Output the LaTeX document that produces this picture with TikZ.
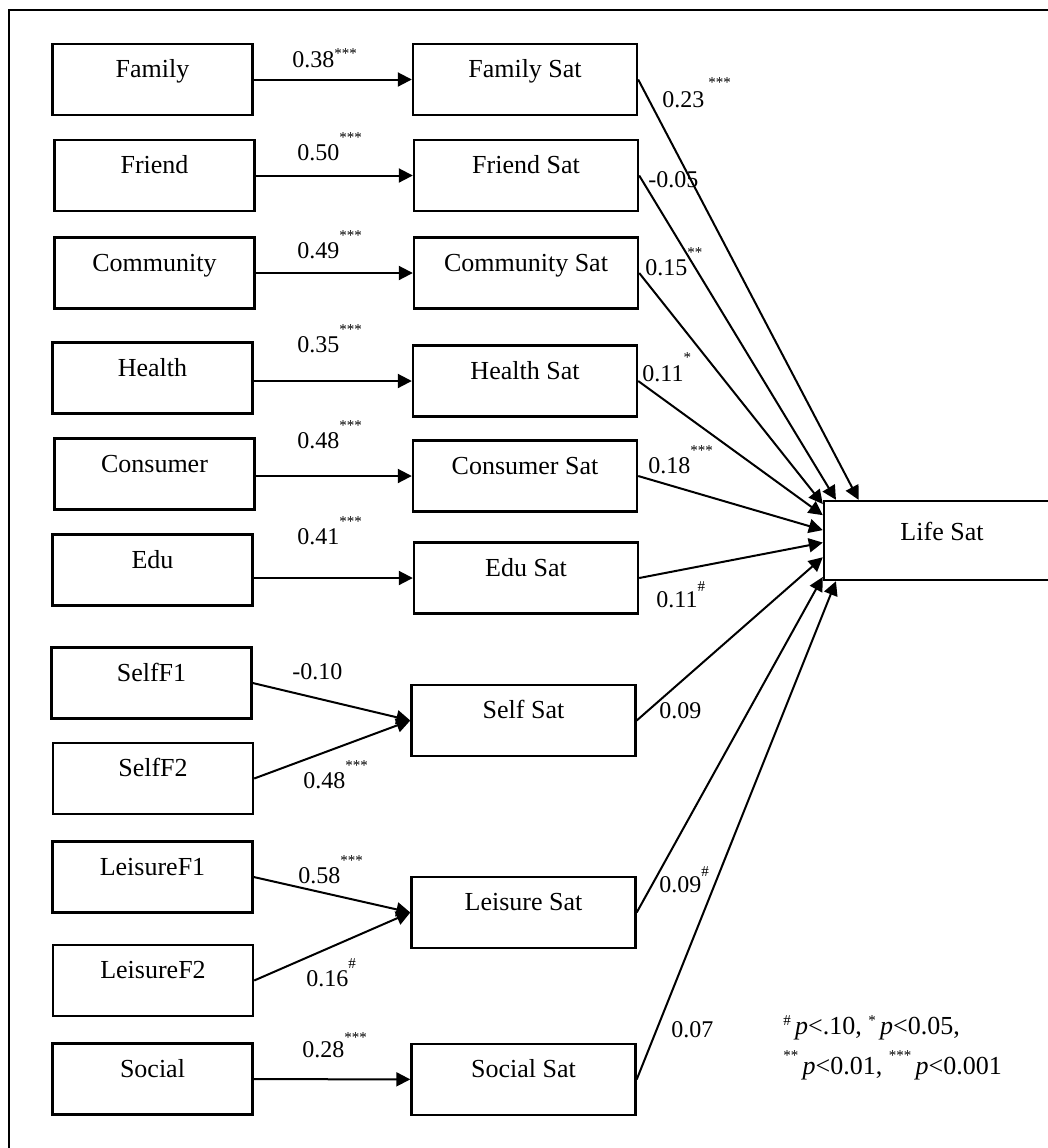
\documentclass[tikz,border=0pt]{standalone}
\usepackage{fontspec}
\setmainfont{Liberation Serif}
\usetikzlibrary{arrows.meta,calc}
\newcommand{\sig}[2][9pt]{\raisebox{#1}{\fontsize{7.5}{8}\selectfont #2}}

\begin{document}
\begin{tikzpicture}[x=0.5pt,y=-0.5pt,font=\fontsize{12}{14}\selectfont,
    obs/.style={draw,line width=1.2pt,minimum width=100pt,minimum height=35.5pt,
      font=\fontsize{13}{15}\selectfont,text height=8.5pt,text depth=10.5pt,inner sep=0pt},
    sat/.style={obs,minimum width=112pt},
    coef/.style={anchor=base west,inner sep=0pt},
    arr/.style={line width=1pt,-{Triangle[length=7pt,width=7pt]}}]
  \clip (0,0) rectangle (1048,1148);
  % frame
  \draw[line width=1.4pt] (9,1160) -- (9,10) -- (1060,10);
  % left boxes
  \node[obs] (fam) at (152.5,79.5) {Family};
  \node[obs] (fri) at (154.5,175.5) {Friend};
  \node[obs] (com) at (154.5,273) {Community};
  \node[obs] (hea) at (152.5,378) {Health};
  \node[obs] (con) at (154.5,474) {Consumer};
  \node[obs] (edu) at (152.5,570) {Edu};
  \node[obs] (sf1) at (151.5,683) {SelfF1};
  \node[obs] (sf2) at (153,778.5) {SelfF2};
  \node[obs] (lf1) at (152.5,877) {LeisureF1};
  \node[obs] (lf2) at (153,980.5) {LeisureF2};
  \node[obs] (soc) at (152.5,1079) {Social};
  % middle boxes
  \node[sat] (famsat) at (525,79.5) {Family Sat};
  \node[sat] (frisat) at (526,175.5) {Friend Sat};
  \node[sat] (comsat) at (526,273) {Community Sat};
  \node[sat] (heasat) at (525,381) {Health Sat};
  \node[sat] (consat) at (525,476) {Consumer Sat};
  \node[sat] (edusat) at (526,578) {Edu Sat};
  \node[sat] (selfsat) at (523.5,720.5) {Self Sat};
  \node[sat] (leisat) at (523.5,912.5) {Leisure Sat};
  \node[sat] (socsat) at (523.5,1079.5) {Social Sat};
  % outcome
  \node[obs,minimum width=118pt,minimum height=39.5pt,text depth=8.5pt] (life) at (942,540.5) {Life Sat};
  % paths to the domain satisfactions
  \draw[arr] (fam) -- (famsat);
  \draw[arr] (fri) -- (frisat);
  \draw[arr] (com) -- (comsat);
  \draw[arr] (hea.east |- heasat.west) -- (heasat.west);
  \draw[arr] (con.east |- consat.west) -- (consat.west);
  \draw[arr] (edu.east |- edusat.west) -- (edusat.west);
  \draw[arr] (sf1.east) -- (selfsat.west);
  \draw[arr] (sf2.east) -- (selfsat.west);
  \draw[arr] (lf1.east) -- (leisat.west);
  \draw[arr] (lf2.east) -- (leisat.west);
  \draw[arr] (soc) -- (socsat);
  % paths to life satisfaction
  \draw[arr] (famsat.east) -- (life.154);
  \draw[arr] (frisat.east) -- (life.159);
  \draw[arr] (comsat.east) -- (life.163.5);
  \draw[arr] (heasat.east) -- (life.168);
  \draw[arr] (consat.east) -- (life.175);
  \draw[arr] (edusat.east) -- (life.181);
  \draw[arr] (selfsat.east) -- (life.188.5);
  \draw[arr] (leisat.east) -- (life.197.5);
  \draw[arr] (socsat.east) -- (life.201.5);
  % coefficients, left
  \node[coef] (cfam) at (292,67) {0.38\sig[4.5pt]{***}};
  \node[coef] (cfri) at (297,160) {0.50\sig{***}};
  \node[coef] (ccom) at (297,258) {0.49\sig{***}};
  \node[coef] (chea) at (297,352) {0.35\sig{***}};
  \node[coef] (ccon) at (297,448) {0.48\sig{***}};
  \node[coef] (cedu) at (297,544) {0.41\sig{***}};
  \node[coef] (csf1) at (292,679) {-0.10};
  \node[coef] (csf2) at (303,788) {0.48\sig{***}};
  \node[coef] (clf1) at (298,883) {0.58\sig{***}};
  \node[coef] (clf2) at (306,986) {0.16\sig{\#}};
  \node[coef] (csoc) at (302,1057) {0.28\sig[7.5pt]{***}};
  % coefficients, right
  \node[coef] (lfam) at (662,107) {0.23\,\sig[10pt]{***}};
  \node[coef] (lfri) at (648,187) {-0.05};
  \node[coef] (lcom) at (645,275) {0.15\sig{**}};
  \node[coef] (lhea) at (642,381) {0.11\sig[9.5pt]{*}};
  \node[coef] (lcon) at (648,473) {0.18\sig{***}};
  \node[coef] (ledu) at (656,607) {0.11\sig[8pt]{\#}};
  \node[coef] (lself) at (659,718) {0.09};
  \node[coef] (llei) at (659,892) {0.09\sig[8pt]{\#}};
  \node[coef] (lsoc) at (671,1037) {0.07};
  % legend
  \node[coef,align=left,font=\fontsize{13}{20}\selectfont] (note) at (783,1074)
    {\sig[4.5pt]{\#}\,\textit{p}<.10, \sig[4.5pt]{*}\,\textit{p}<0.05,\\
     \sig[7pt]{**}\,\textit{p}<0.01, \sig[7pt]{***}\,\textit{p}<0.001};
\end{tikzpicture}
\end{document}
